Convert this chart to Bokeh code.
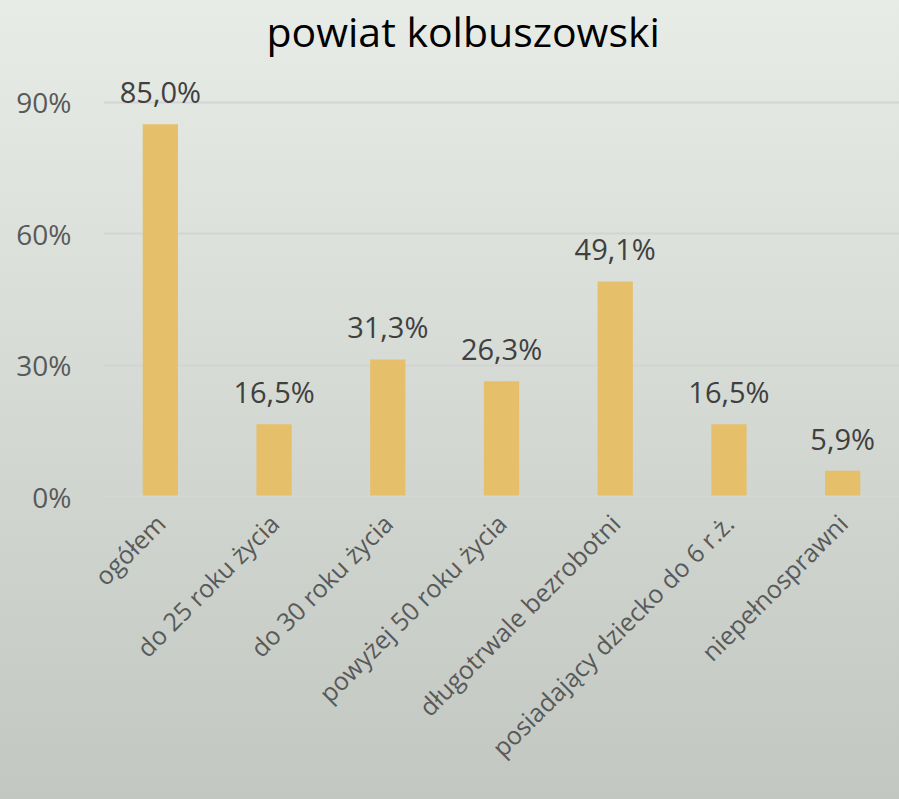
from bokeh.plotting import figure
from bokeh.models import ColumnDataSource, Range1d, FixedTicker, PrintfTickFormatter, InlineStyleSheet
from bokeh.core.properties import value
from bokeh.embed import file_html
from bokeh.resources import INLINE
import math

title_text = "powiat kolbuszowski"
categories = ["ogółem", "do 25 roku życia", "do 30 roku życia", "powyżej 50 roku życia",
              "długotrwale bezrobotni", "posiadający dziecko do 6 r.ż.", "niepełnosprawni"]
values = [85.0, 16.5, 31.3, 26.3, 49.1, 16.5, 5.9]
y_ticks = [0, 30, 60, 90]

labels = [f"{v:.1f}%".replace(".", ",") for v in values]
src = ColumnDataSource(dict(cat=categories, val=values, lab=labels))

FONT = "Open Sans"

p = figure(width=899, height=799, x_range=categories, y_range=Range1d(0, 100),
           output_backend="svg", toolbar_location=None, title=title_text,
           min_border_left=103, min_border_right=0, min_border_top=58, min_border_bottom=303)
p.stylesheets = [InlineStyleSheet(css=":host { background: linear-gradient(to bottom, #e7ece6 0%, #c2c7c1 100%); }")]
p.background_fill_color = None
p.border_fill_color = None
p.outline_line_color = None

p.title.align = "left"
p.title.offset = 163
p.title.standoff = 0
p.title.text_font = FONT
p.title.text_font_size = "41px"
p.title.text_font_style = "normal"
p.title.text_color = "#000000"

p.vbar(x="cat", top="val", width=0.31, source=src, color="#e6bf6a", line_color=None)
p.text(x="cat", y="val", text="lab", source=src, y_offset=-13,
       text_align="center", text_baseline="bottom",
       text_font=value(FONT), text_font_size="29px", text_color="#404040")

p.yaxis.ticker = FixedTicker(ticks=y_ticks)
p.yaxis.formatter = PrintfTickFormatter(format="%d%%")
p.yaxis.axis_line_color = None
p.yaxis.major_tick_line_color = None
p.yaxis.minor_tick_line_color = None
p.yaxis.major_label_standoff = 26
p.yaxis.major_label_text_font = FONT
p.yaxis.major_label_text_font_size = "28px"
p.yaxis.major_label_text_color = "#595959"

p.xaxis.axis_line_color = "#d6d6d6"
p.xaxis.axis_line_width = 2
p.xaxis.major_tick_line_color = None
p.xaxis.minor_tick_line_color = None
p.xaxis.major_label_orientation = math.pi / 4
p.xaxis.major_label_standoff = 16
p.xaxis.major_label_text_font = FONT
p.xaxis.major_label_text_font_size = "25px"
p.xaxis.major_label_text_color = "#595959"

p.xgrid.grid_line_color = None
p.ygrid.grid_line_color = "#d4d4d4"
p.ygrid.grid_line_width = 2

open("out.html", "w").write(file_html(p, INLINE))
